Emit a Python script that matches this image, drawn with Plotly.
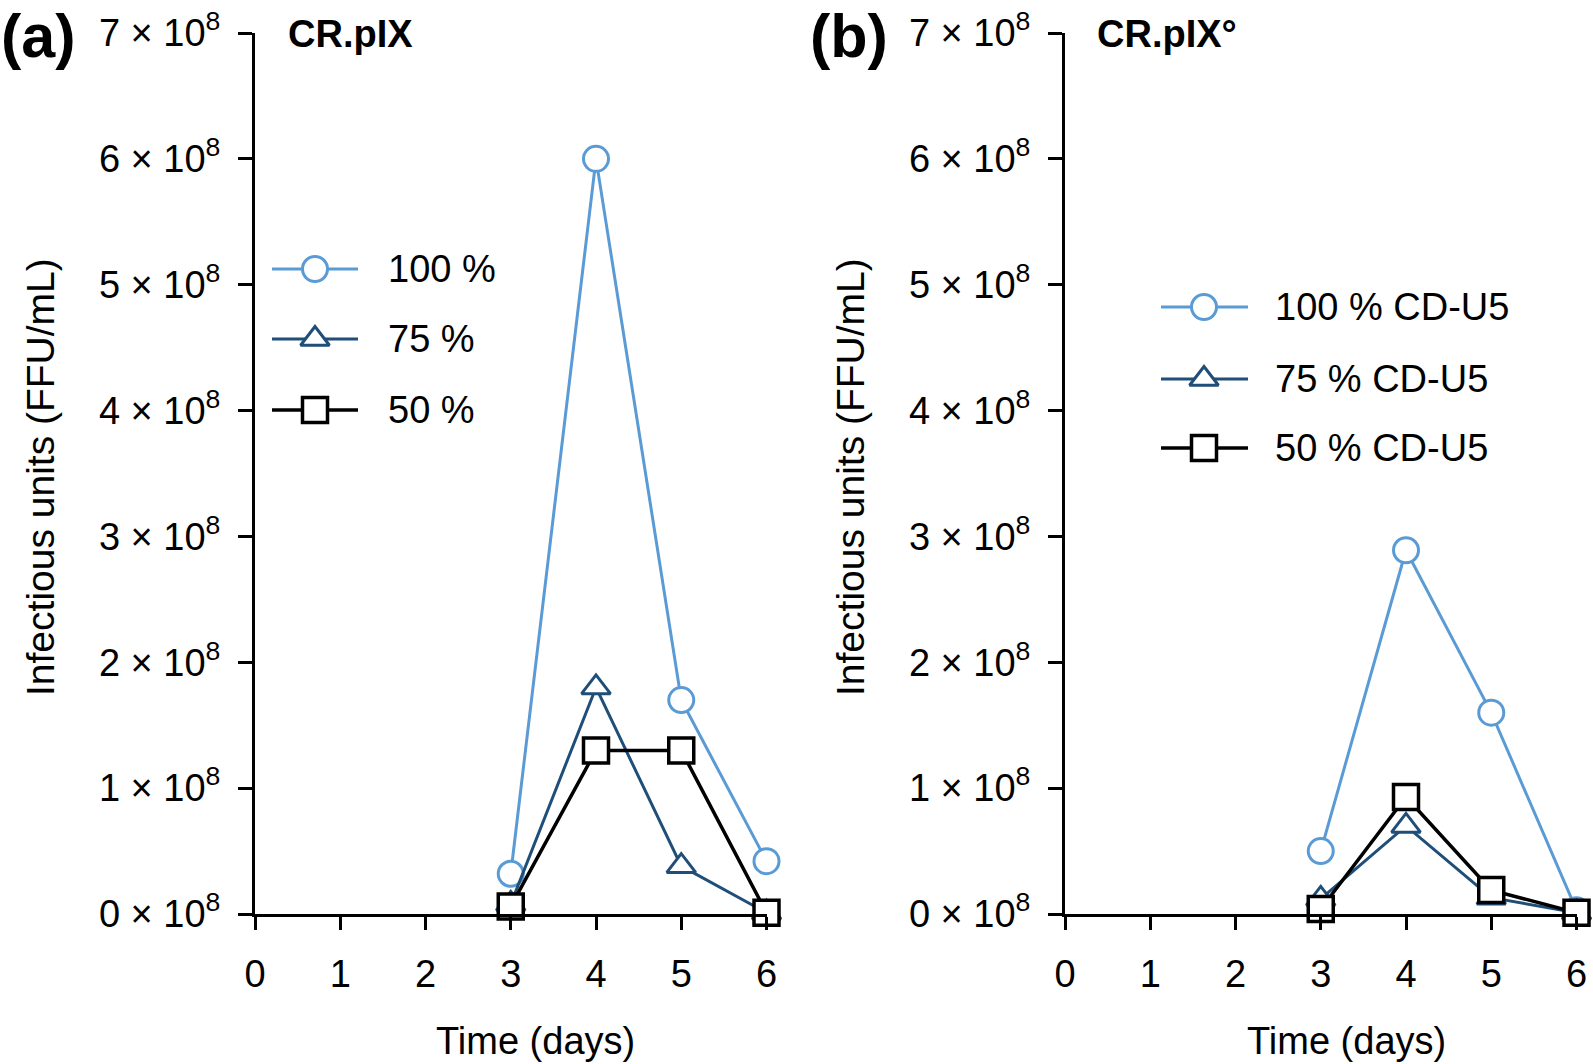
import plotly.graph_objects as go

W, H = 1593, 1064

# ---- data (values in units of 1e8 FFU/mL) ----
days = [3, 4, 5, 6]
a_100 = [0.32, 6.00, 1.70, 0.42]
a_75 = [0.08, 1.80, 0.38, 0.01]
a_50 = [0.06, 1.30, 1.30, 0.01]
b_100 = [0.50, 2.89, 1.60, 0.03]
b_75 = [0.12, 0.70, 0.13, 0.01]
b_50 = [0.04, 0.93, 0.19, 0.01]

x_ticks = [0, 1, 2, 3, 4, 5, 6]
y_ticks = [0, 1, 2, 3, 4, 5, 6, 7]
y_ticktext = [f"{k} × 10<sup>8</sup>" for k in y_ticks]

labels_a = ["100 %", "75 %", "50 %"]
labels_b = ["100 % CD-U5", "75 % CD-U5", "50 % CD-U5"]

# ---- styles ----
FONT = "Liberation Sans, Arial, sans-serif"
C_LIGHT = "#5B9BD5"
C_DARK = "#1F4E79"
C_BLACK = "#000000"
styles = [
    dict(color=C_LIGHT, symbol="circle", size=25, lw=3),
    dict(color=C_DARK, symbol="triangle-up", size=25, lw=3),
    dict(color=C_BLACK, symbol="square", size=25, lw=3.5),
]


def px(x):
    return x / W


def py(y):
    return 1 - y / H


fig = go.Figure()

panels = [
    ("x", "y", [a_100, a_75, a_50]),
    ("x2", "y2", [b_100, b_75, b_50]),
]
for xa, ya, series in panels:
    for vals, st in zip(series, styles):
        fig.add_trace(go.Scatter(
            x=days, y=[v * 1e8 for v in vals], xaxis=xa, yaxis=ya,
            mode="lines+markers", cliponaxis=False, showlegend=False,
            line=dict(color=st["color"], width=st["lw"]),
            marker=dict(symbol=st["symbol"], size=st["size"], color="white",
                        line=dict(color=st["color"], width=st["lw"])),
        ))

# ---- custom legends on a pixel overlay axis ----
legend_layout = [
    dict(x0=272, x1=358, xm=315, rows=[269, 339, 410], tx=386, labels=labels_a),
    dict(x0=1161, x1=1248, xm=1204, rows=[307, 379, 448], tx=1273, labels=labels_b),
]
annotations = []
for lg in legend_layout:
    for yy, st, lab in zip(lg["rows"], styles, lg["labels"]):
        fig.add_trace(go.Scatter(
            x=[lg["x0"], lg["x1"]], y=[yy, yy],
            xaxis="x3", yaxis="y3",
            mode="lines", showlegend=False, hoverinfo="skip",
            line=dict(color=st["color"], width=st["lw"]),
        ))
        fig.add_trace(go.Scatter(
            x=[lg["xm"]], y=[yy], xaxis="x3", yaxis="y3",
            mode="markers", showlegend=False, hoverinfo="skip", cliponaxis=False,
            marker=dict(symbol=st["symbol"], size=st["size"], color="white",
                        line=dict(color=st["color"], width=st["lw"])),
        ))
        annotations.append(dict(
            text=lab, x=px(lg["tx"]), y=py(yy), xref="paper", yref="paper",
            xanchor="left", yanchor="middle", showarrow=False,
            font=dict(family=FONT, size=38, color="black"),
        ))

# ---- texts ----
def ann(text, x, y, size=38, xanchor="left", angle=0, yanchor="middle"):
    annotations.append(dict(
        text=text, x=px(x), y=py(y), xref="paper", yref="paper",
        xanchor=xanchor, yanchor=yanchor, showarrow=False, textangle=angle,
        font=dict(family=FONT, size=size, color="black"),
    ))

ann("<b>(a)</b>", -1, 0, size=61, yanchor="top")
ann("<b>(b)</b>", 808, 0, size=61, yanchor="top")
ann("<b>CR.pIX</b>", 286, 34, size=38)
ann("<b>CR.pIX°</b>", 1095, 34, size=38)
ann("Infectious units (FFU/mL)", 41, 477, size=39, xanchor="center", angle=-90)
ann("Infectious units (FFU/mL)", 851, 477, size=39, xanchor="center", angle=-90)
ann("Time (days)", 535, 1041, xanchor="center")
ann("Time (days)", 1346, 1041, xanchor="center")

y_dom = [py(914), py(33)]
common_x = dict(
    range=[0, 6], tickvals=x_ticks, ticktext=[str(t) for t in x_ticks],
    showline=True, linecolor="black", linewidth=3, mirror=False,
    ticks="outside", ticklen=13, tickwidth=3, tickcolor="black",
    showgrid=False, zeroline=False, ticklabelstandoff=11, automargin=False,
    ticklabeloverflow="allow",
    tickfont=dict(family=FONT, size=38, color="black"),
)
common_y = dict(
    range=[0, 7e8], tickvals=[v * 1e8 for v in y_ticks], ticktext=y_ticktext,
    showline=True, linecolor="black", linewidth=3,
    ticks="outside", ticklen=14, tickwidth=3, tickcolor="black",
    showgrid=False, zeroline=False, ticklabelstandoff=10, domain=y_dom,
    automargin=False, ticklabeloverflow="allow",
    tickfont=dict(family=FONT, size=38, color="black"),
)

fig.update_layout(
    width=W, height=H, autosize=False,
    margin=dict(l=0, r=0, t=0, b=0, pad=0, autoexpand=False),
    paper_bgcolor="white", plot_bgcolor="rgba(0,0,0,0)",
    showlegend=False,
    xaxis=dict(domain=[px(255), px(766.5)], anchor="y", **common_x),
    yaxis=dict(anchor="x", **common_y),
    xaxis2=dict(domain=[px(1065), px(1576.5)], anchor="y2", **common_x),
    yaxis2=dict(anchor="x2", **common_y),
    xaxis3=dict(domain=[0, 1], range=[0, W], visible=False, anchor="y3",
                fixedrange=True, automargin=False),
    yaxis3=dict(domain=[0, 1], range=[H, 0], visible=False, anchor="x3",
                fixedrange=True, automargin=False),
    annotations=annotations,
    font=dict(family=FONT, color="black"),
)

fig.write_html(
    "out.html",
    config={"displayModeBar": False},
    post_script="document.body.style.margin='0px';document.body.style.overflow='hidden';",
)
